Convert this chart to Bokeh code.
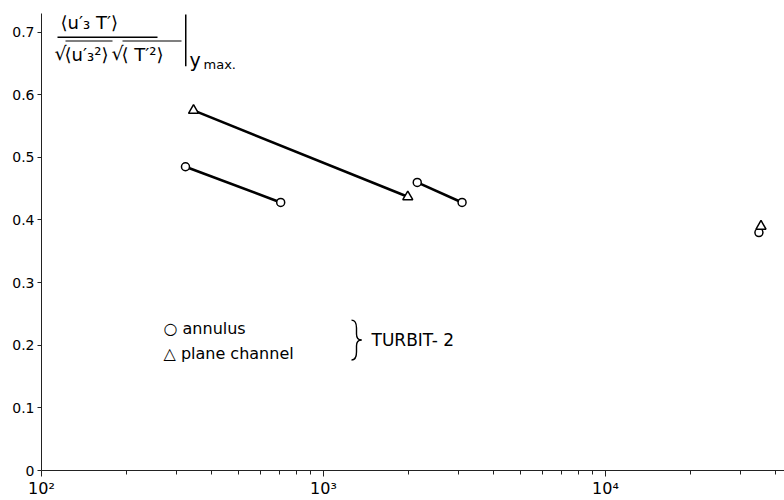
from bokeh.plotting import figure
from bokeh.models import Range1d, Label, BoxAnnotation, FixedTicker
from bokeh.embed import file_html
from bokeh.resources import INLINE

# Maximum normalized correlation <u3' T'> / (rms u3' * rms T') versus Peclet number
pe_annulus_a = [324, 705]
corr_annulus_a = [0.485, 0.428]
pe_annulus_b = [2150, 3100]
corr_annulus_b = [0.460, 0.428]
pe_channel = [346, 1990]
corr_channel = [0.575, 0.437]
pe_point_circle = [35000]
corr_point_circle = [0.380]
pe_point_triangle = [35600]
corr_point_triangle = [0.390]

x_major_ticks = [100, 1000, 10000]
x_minor_ticks = [200, 300, 400, 500, 600, 700, 800, 900,
                 2000, 3000, 4000, 5000, 6000, 7000, 8000, 9000,
                 20000, 30000, 40000]
x_tick_labels = {100: "10²", 1000: "10³", 10000: "10⁴"}
y_ticks = [0, 0.1, 0.2, 0.3, 0.4, 0.5, 0.6, 0.7]

FONT = "DejaVu Sans"

# frame geometry in pixels (used to place annotations)
LEFT, TOP, BOTTOM, DECADE, UNIT = 41, 13, 472, 282.0, 629.0
X_MAX = 10 ** (2 + (784 - LEFT) / DECADE)
Y_MAX = (BOTTOM - TOP) / UNIT


def pe_at(px):
    return 10 ** (2 + (px - LEFT) / DECADE)


def val_at(py):
    return (BOTTOM - py) / UNIT


p = figure(width=784, height=500, x_axis_type="log",
           x_range=Range1d(100, X_MAX), y_range=Range1d(0, Y_MAX),
           output_backend="svg", toolbar_location=None,
           min_border_left=LEFT, min_border_right=0,
           min_border_top=TOP, min_border_bottom=28)
p.outline_line_color = None
p.xgrid.visible = False
p.ygrid.visible = False
p.background_fill_color = "white"
p.border_fill_color = "white"

xa = p.xaxis[0]
xa.ticker = FixedTicker(ticks=x_major_ticks, minor_ticks=x_minor_ticks)
xa.major_label_overrides = x_tick_labels
xa.axis_line_color = "#222222"
xa.major_tick_line_color = "#222222"
xa.minor_tick_line_color = "#222222"
xa.major_tick_out = 6
xa.major_tick_in = 0
xa.minor_tick_out = 4
xa.minor_tick_in = 0
xa.major_label_standoff = 2
xa.major_label_text_font = FONT
xa.major_label_text_font_size = "16px"
xa.major_label_text_color = "black"

ya = p.yaxis[0]
ya.ticker = FixedTicker(ticks=y_ticks)
ya.major_label_overrides = {0: "0"}
ya.axis_line_color = "#222222"
ya.major_tick_line_color = "#222222"
ya.major_tick_out = 4
ya.major_tick_in = 0
ya.minor_tick_line_color = None
ya.major_label_standoff = 3
ya.major_label_text_font = FONT
ya.major_label_text_font_size = "14px"
ya.major_label_text_color = "black"

# connecting lines
for xs, ys in [(pe_annulus_a, corr_annulus_a), (pe_annulus_b, corr_annulus_b),
               (pe_channel, corr_channel)]:
    p.line(xs, ys, line_color="black", line_width=2.6)

# markers
for xs, ys in [(pe_annulus_a, corr_annulus_a), (pe_annulus_b, corr_annulus_b),
               (pe_point_circle, corr_point_circle)]:
    p.scatter(xs, ys, marker="circle", size=8, fill_color="white",
              line_color="black", line_width=1.5)
for xs, ys in [(pe_channel, corr_channel), (pe_point_triangle, corr_point_triangle)]:
    p.scatter(xs, ys, marker="triangle", size=10, fill_color="white",
              line_color="black", line_width=1.5)


def label(px, py, text, size="16px", baseline="middle", align="left"):
    p.add_layout(Label(x=pe_at(px), y=val_at(py), text=text,
                       text_font=FONT, text_font_size=size,
                       text_baseline=baseline, text_align=align,
                       text_color="black"))


def bar(x0, x1, y0, y1):
    p.add_layout(BoxAnnotation(left=pe_at(x0), right=pe_at(x1),
                               top=val_at(y0), bottom=val_at(y1),
                               fill_color="black", fill_alpha=1.0,
                               line_alpha=0))


# y quantity written as a fraction in the upper-left corner
label(60, 22, "⟨u′₃  T′⟩", size="18px")
bar(57, 157, 36, 37.5)
label(54, 53, "√", size="19px")
bar(65, 112, 40, 41.2)
label(64, 54, "⟨u′₃²⟩", size="18px")
label(111, 53, "√", size="19px")
bar(122, 181, 40, 41.2)
label(121, 54, "⟨ T′²⟩", size="18px")
bar(184.5, 186, 14, 66)
label(189, 60, "y", size="19px")
label(203, 64, "max.", size="13px")

# key
label(163, 329, "○ annulus", size="16px")
label(163, 354, "△ plane channel", size="16px")
label(371, 341, "TURBIT- 2", size="17px")

# curly brace grouping the two key entries
brace_x0 = [351, 356, 356, 361, 356, 356]
brace_y0 = [321, 329, 335, 341, 347, 353]
brace_x1 = [356, 356, 361, 356, 356, 351]
brace_y1 = [329, 335, 341, 347, 353, 361]
brace_cx0 = [355, 356, 356, 358, 356, 356]
brace_cy0 = [321, 331, 339, 341, 349, 358]
brace_cx1 = [356, 356, 358, 356, 356, 355]
brace_cy1 = [324, 333, 341, 343, 351, 361]
p.bezier(x0=[pe_at(v) for v in brace_x0], y0=[val_at(v) for v in brace_y0],
         x1=[pe_at(v) for v in brace_x1], y1=[val_at(v) for v in brace_y1],
         cx0=[pe_at(v) for v in brace_cx0], cy0=[val_at(v) for v in brace_cy0],
         cx1=[pe_at(v) for v in brace_cx1], cy1=[val_at(v) for v in brace_cy1],
         line_color="black", line_width=1.4)

# x quantity
label(766, 490, "Pe", size="16px")

open("out.html", "w").write(file_html(p, INLINE))
